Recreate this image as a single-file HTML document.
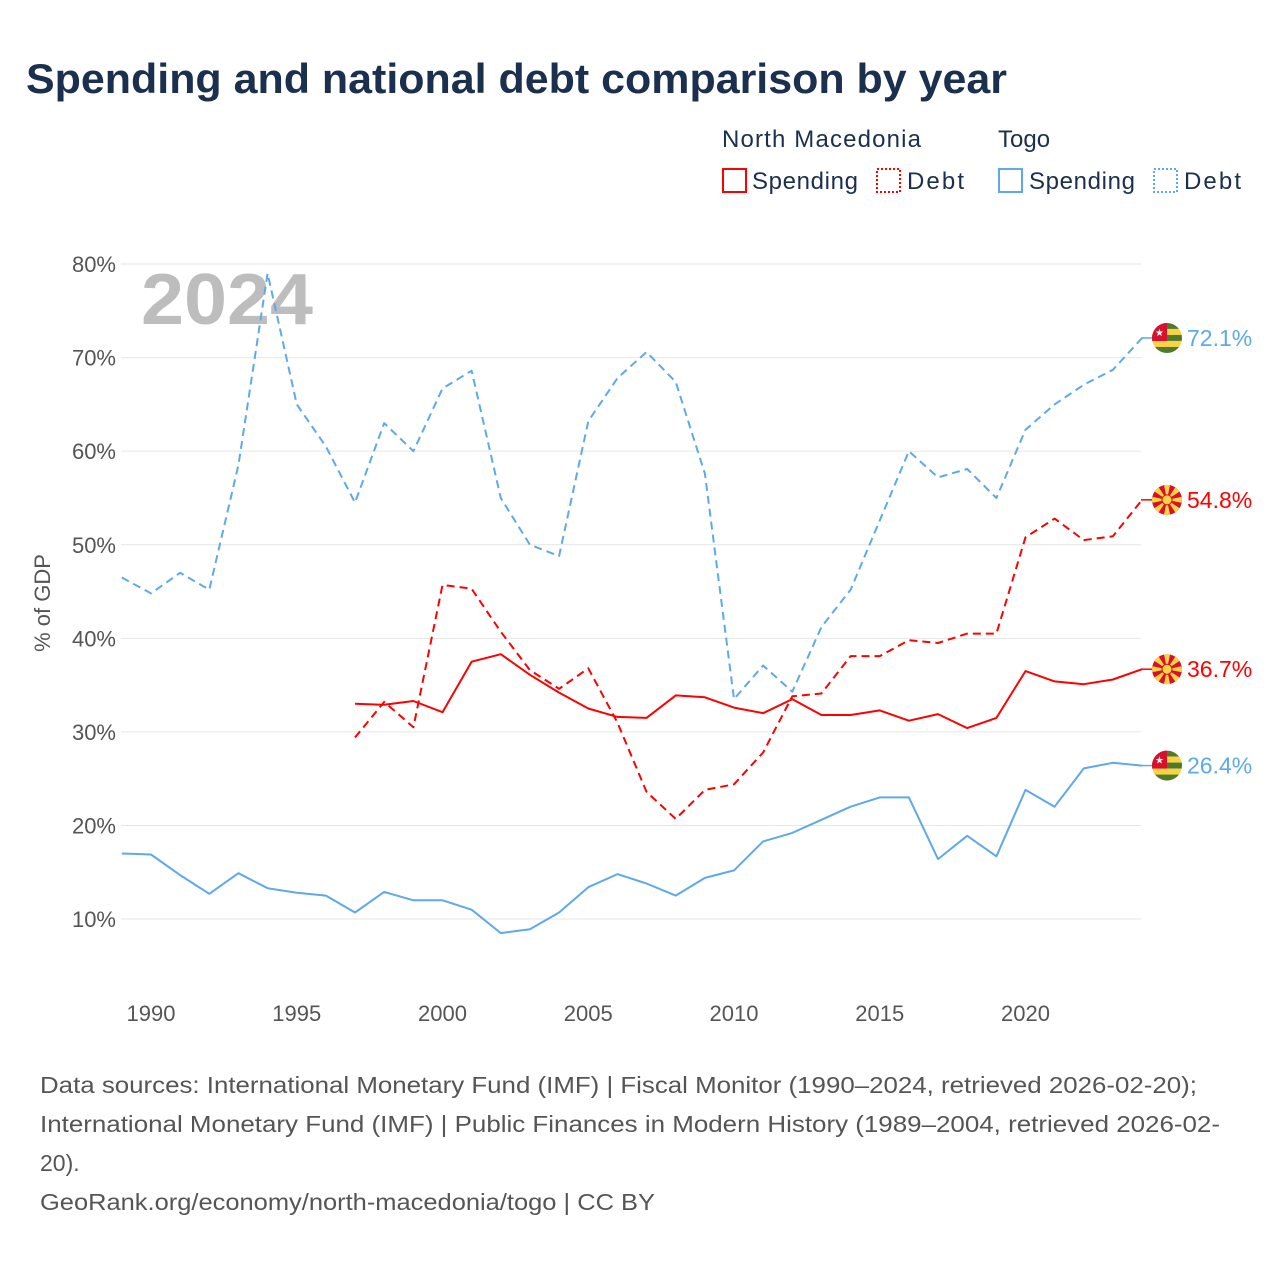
<!DOCTYPE html>
<html><head><meta charset="utf-8">
<style>
body{margin:0;background:#fff;font-family:"Liberation Sans",sans-serif;}
#wrap{position:relative;width:1280px;height:1280px;overflow:hidden;}
</style></head>
<body>
<div id="wrap">
<svg id="svg" width="1280" height="1280" xmlns="http://www.w3.org/2000/svg" font-family="Liberation Sans, sans-serif">
<text x="26" y="93" font-size="42" font-weight="bold" fill="#1b2f4e" textLength="981" lengthAdjust="spacingAndGlyphs">Spending and national debt comparison by year</text>
<g font-size="24" fill="#1b2f4e">
<text x="722" y="147" textLength="199">North Macedonia</text>
<text x="998" y="147">Togo</text>
<g><rect x="723" y="169" width="23" height="23" fill="none" stroke="#ff0000" stroke-width="2"/><text x="752" y="189" textLength="106">Spending</text></g>
<g><rect x="877" y="169" width="23" height="23" fill="none" stroke="#ff0000" stroke-width="2" stroke-dasharray="2,2"/><text x="907" y="189" textLength="57">Debt</text></g>
<g><rect x="999" y="169" width="23" height="23" fill="none" stroke="#5ea9ea" stroke-width="2"/><text x="1029" y="189" textLength="106">Spending</text></g>
<g><rect x="1154" y="169" width="23" height="23" fill="none" stroke="#5ea9ea" stroke-width="2" stroke-dasharray="2,2"/><text x="1184" y="189" textLength="57">Debt</text></g>
</g>
<text x="141" y="324" font-size="72" font-weight="bold" fill="#bdbdbd" textLength="172" lengthAdjust="spacingAndGlyphs">2024</text>
<text transform="translate(50,603) rotate(-90)" text-anchor="middle" font-size="22" fill="#555">% of GDP</text>
<g id="grid"></g><g id="series"></g><g id="labels"></g>
<g font-size="23" fill="#555">
<text x="40" y="1093" textLength="1157" lengthAdjust="spacingAndGlyphs">Data sources: International Monetary Fund (IMF) | Fiscal Monitor (1990–2024, retrieved 2026-02-20);</text>
<text x="40" y="1132" textLength="1180" lengthAdjust="spacingAndGlyphs">International Monetary Fund (IMF) | Public Finances in Modern History (1989–2004, retrieved 2026-02-</text>
<text x="40" y="1171">20).</text>
<text x="40" y="1210" textLength="615" lengthAdjust="spacingAndGlyphs">GeoRank.org/economy/north-macedonia/togo | CC BY</text>
</g>
</svg>
</div>
<script>
const yTicks=[10,20,30,40,50,60,70,80];
const xTicks=[1990,1995,2000,2005,2010,2015,2020];
const togoYears=[1989,1990,1991,1992,1993,1994,1995,1996,1997,1998,1999,2000,2001,2002,2003,2004,2005,2006,2007,2008,2009,2010,2011,2012,2013,2014,2015,2016,2017,2018,2019,2020,2021,2022,2023,2024];
const togoDebt=[46.5,44.8,47,45.2,58.5,79,65,60.5,54.5,63,60,66.7,68.6,55,50,48.8,63.2,67.8,70.6,67.4,57.6,33.5,37.1,34.3,41.2,45.2,52.6,60,57.2,58.1,55,62.3,65,67.1,68.7,72.1];
const togoSpending=[17,16.9,14.7,12.7,14.9,13.3,12.8,12.5,10.7,12.9,12,12,11,8.5,8.9,10.7,13.4,14.8,13.8,12.5,14.4,15.2,18.3,19.2,20.6,22,23,23,16.4,18.9,16.7,23.8,22,26.1,26.7,26.4];
const nmYears=[1997,1998,1999,2000,2001,2002,2003,2004,2005,2006,2007,2008,2009,2010,2011,2012,2013,2014,2015,2016,2017,2018,2019,2020,2021,2022,2023,2024];
const nmSpending=[33,32.9,33.3,32.1,37.5,38.3,36.1,34.2,32.5,31.6,31.5,33.9,33.7,32.6,32,33.5,31.8,31.8,32.3,31.2,31.9,30.4,31.5,36.5,35.4,35.1,35.6,36.7];
const nmDebt=[29.4,33.2,30.5,45.7,45.3,40.7,36.6,34.6,36.8,31,23.6,20.7,23.8,24.4,27.8,33.8,34.1,38.1,38.1,39.8,39.5,40.5,40.5,50.8,52.8,50.5,50.9,54.8];

const NS="http://www.w3.org/2000/svg";
const x=yr=>121.85+(yr-1989)*29.15;
const y=v=>1012.6-v*9.357;
function mk(tag,attrs,parent){const e=document.createElementNS(NS,tag);for(const k in attrs)e.setAttribute(k,attrs[k]);parent.appendChild(e);return e;}
const grid=document.getElementById('grid'),series=document.getElementById('series'),labels=document.getElementById('labels');
yTicks.forEach(t=>{
 const l=mk('line',{x1:121,x2:1141,y1:y(t),y2:y(t),stroke:'#e6e6e6','stroke-width':1},grid);
 
 
 const tx=mk('text',{x:116,y:y(t)+8,'text-anchor':'end','font-size':22,fill:'#555'},grid);
 tx.textContent=t+'%';
 
 
});
xTicks.forEach(t=>{
 const tx=mk('text',{x:x(t),y:1021,'text-anchor':'middle','font-size':22,fill:'#555'},grid);
 tx.textContent=t;
 
 
});
function line(yrs,vals,color,dash,name){
 const p=mk('path',{d:yrs.map((yr,i)=>(i?'L':'M')+x(yr).toFixed(1)+','+y(vals[i]).toFixed(1)).join(''),fill:'none',stroke:color,'stroke-width':2,'stroke-dasharray':dash,'stroke-linejoin':'round'},series);
 
 
}
line(togoYears,togoDebt,'#5ea9ea','8,5','line-togo-debt');
line(togoYears,togoSpending,'#5ea9ea','','line-togo-spending');
line(nmYears,nmDebt,'#ff0000','8,5','line-nm-debt');
line(nmYears,nmSpending,'#ff0000','','line-nm-spending');
function flag(type,cy,g){
 const cx=1167,r=15;
 const cp=mk('clipPath',{id:'c'+type+Math.round(cy)},g);
 mk('circle',{cx,cy,r},cp);
 const f=mk('g',{'clip-path':'url(#c'+type+Math.round(cy)+')'},g);
 if(type==='tg'){
  for(let i=0;i<5;i++)mk('rect',{x:cx-r,y:cy-r+i*6,width:30,height:6,fill:i%2?'#f9d342':'#4e7a2a'},f);
  mk('rect',{x:cx-r,y:cy-r,width:15,height:18,fill:'#d8102c'},f);
  mk('text',{x:cx-7.5,y:cy-2,'text-anchor':'middle','font-size':10,fill:'#fff'},f).textContent='★';
 }else{
  mk('rect',{x:cx-r,y:cy-r,width:30,height:30,fill:'#d8102c'},f);
  for(let a=0;a<8;a++){const an=a*Math.PI/4;mk('polygon',{points:`${cx},${cy} ${cx+20*Math.cos(an-0.2)},${cy+20*Math.sin(an-0.2)} ${cx+20*Math.cos(an+0.2)},${cy+20*Math.sin(an+0.2)}`,fill:'#f9d342'},f);}
  mk('circle',{cx,cy,r:5,fill:'#f9d342',stroke:'#d8102c','stroke-width':1},f);
 }
}
function endLabel(val,color,type,name){
 const g=mk('g',{},labels);
 
 
 const cy=y(val);
 mk('line',{x1:1141,x2:1152,y1:cy,y2:cy,stroke:color,'stroke-width':1.5},g);
 flag(type,cy,g);
 const t=mk('text',{x:1187,y:cy+8,'font-size':23,fill:color},g);
 t.textContent=val.toFixed(1)+'%';
}
endLabel(togoDebt[togoDebt.length-1],'#5ea9ea','tg','end-label-togo-debt');
endLabel(nmDebt[nmDebt.length-1],'#ff0000','mk','end-label-nm-debt');
endLabel(nmSpending[nmSpending.length-1],'#ff0000','mk','end-label-nm-spending');
endLabel(togoSpending[togoSpending.length-1],'#5ea9ea','tg','end-label-togo-spending');
</script>
</body></html>
